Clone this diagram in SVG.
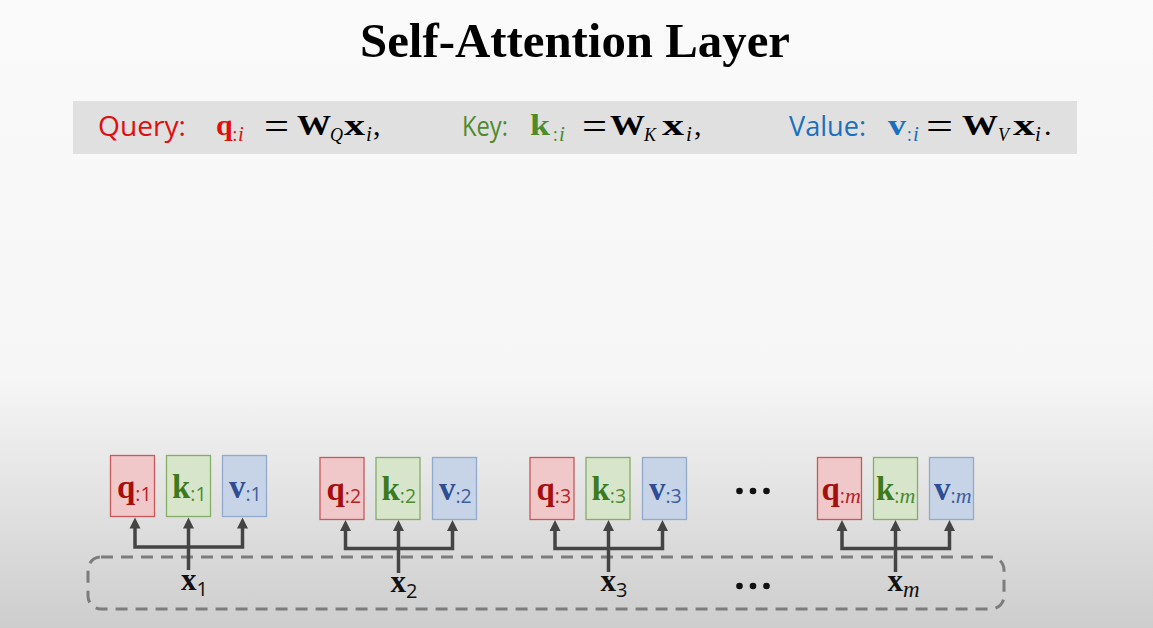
<svg xmlns="http://www.w3.org/2000/svg" width="1153" height="628" viewBox="0 0 1153 628">
<defs>
<linearGradient id="bg" x1="0" y1="0" x2="0" y2="1">
<stop offset="0" stop-color="#fafafa"/>
<stop offset="0.6" stop-color="#f6f6f6"/>
<stop offset="1" stop-color="#cdcdcd"/>
</linearGradient>
<style>
.title{font-family:"Liberation Serif",serif;font-weight:bold;font-size:48px;fill:#000}
.lab{font-family:"Open Sans","Liberation Sans",sans-serif;font-size:27px}
.mb{font-family:"Liberation Serif",serif;font-weight:bold;font-size:30px;fill:#000}
.mi{font-family:"Liberation Serif",serif;font-style:italic;font-size:21px}
.mc{font-family:"Liberation Serif",serif;font-style:italic;font-size:18px}
.ms{font-family:"Open Sans","Liberation Sans",sans-serif;font-size:18px}
.eq{font-family:"Liberation Serif",serif;font-size:38px;fill:#000}
.cm{font-family:"Liberation Serif",serif;font-size:30px;fill:#000}
.bq{fill:#f0c8c9;stroke:#c9585a;stroke-width:1.3}
.bk{fill:#d7e6cb;stroke:#86ad68;stroke-width:1.3}
.bv{fill:#c7d4e7;stroke:#91a9cc;stroke-width:1.3}
.tb{font-family:"Liberation Serif",serif;font-weight:bold;font-size:33px}
.ts{font-family:"Open Sans","Liberation Sans",sans-serif;font-size:19.5px}
.tm{font-family:"Liberation Serif",serif;font-style:italic;font-size:22px}
.cq{fill:#a50f0f}.ck{fill:#3c7a1f}.cv{fill:#2d4e93}
.sq{fill:#b52424}.sk{fill:#4d8a30}.sv{fill:#3d5ea0}
.xb{font-family:"Liberation Serif",serif;font-weight:bold;font-size:31px;fill:#111}
.xs{font-family:"Open Sans","Liberation Sans",sans-serif;font-size:20px;fill:#111}
.xm{font-family:"Liberation Serif",serif;font-style:italic;font-size:23px;fill:#111}
.ln{fill:none;stroke:#444;stroke-width:3.5}
.ah{fill:#444}
.dot{fill:#111}
</style>
</defs>
<rect width="1153" height="628" fill="url(#bg)"/>
<g id="title"><text class="title" x="575" y="57" text-anchor="middle" textLength="430" lengthAdjust="spacingAndGlyphs">Self-Attention Layer</text></g>
<g id="header">
<rect x="73" y="101" width="1004" height="53" fill="#e0e0e0"/>
<text class="lab" x="98" y="136" fill="#e00e0e" textLength="88" lengthAdjust="spacingAndGlyphs">Query:</text>
<text class="mb" x="216" y="135" style="fill:#e00e0e">q</text>
<text class="ms" x="232.5" y="141" fill="#e00e0e">:</text><text class="mi" x="238" y="141" fill="#e00e0e">i</text>
<text class="eq" x="264" y="139" textLength="25" lengthAdjust="spacingAndGlyphs">=</text>
<text class="mb" x="297" y="135" textLength="34" lengthAdjust="spacingAndGlyphs">W</text>
<text class="mc" x="330" y="141" fill="#000">Q</text>
<text class="mb" x="344" y="135" textLength="21" lengthAdjust="spacingAndGlyphs">x</text>
<text class="mi" x="366" y="141" fill="#000">i</text>
<text class="cm" x="373" y="135">,</text>

<text class="lab" x="462" y="136" fill="#4f8a2b" textLength="46" lengthAdjust="spacingAndGlyphs">Key:</text>
<text class="mb" x="530" y="135" style="fill:#4f8a2b" textLength="20" lengthAdjust="spacingAndGlyphs">k</text>
<text class="ms" x="553" y="141" fill="#4f8a2b">:</text><text class="mi" x="559" y="141" fill="#4f8a2b">i</text>
<text class="eq" x="582" y="139" textLength="25" lengthAdjust="spacingAndGlyphs">=</text>
<text class="mb" x="610" y="135" textLength="35" lengthAdjust="spacingAndGlyphs">W</text>
<text class="mc" x="644" y="141" fill="#000">K</text>
<text class="mb" x="662" y="135" textLength="22" lengthAdjust="spacingAndGlyphs">x</text>
<text class="mi" x="686" y="141" fill="#000">i</text>
<text class="cm" x="694" y="135">,</text>

<text class="lab" x="789" y="136" fill="#1a6fbf" textLength="77" lengthAdjust="spacingAndGlyphs">Value:</text>
<text class="mb" x="888" y="135" style="fill:#1a6fbf" textLength="18" lengthAdjust="spacingAndGlyphs">v</text>
<text class="ms" x="907" y="141" fill="#1a6fbf">:</text><text class="mi" x="913" y="141" fill="#1a6fbf">i</text>
<text class="eq" x="926" y="139" textLength="27" lengthAdjust="spacingAndGlyphs">=</text>
<text class="mb" x="962" y="135" textLength="36" lengthAdjust="spacingAndGlyphs">W</text>
<text class="mc" x="998" y="141" fill="#000">V</text>
<text class="mb" x="1013" y="135" textLength="22" lengthAdjust="spacingAndGlyphs">x</text>
<text class="mi" x="1035" y="141" fill="#000">i</text>
<text class="cm" x="1044" y="135">.</text>
</g>

<g id="input-box"><rect x="88" y="557" width="916" height="52" rx="13" fill="none" stroke="#7c7c7c" stroke-width="3" stroke-dasharray="12 8"/></g>

<g id="q1"><rect class="bq" x="110.5" y="455.5" width="44" height="61"/><text x="117" y="498"><tspan class="tb cq">q</tspan><tspan class="ts sq" dy="3">:1</tspan></text></g>
<g id="k1"><rect class="bk" x="166.5" y="455.5" width="44" height="61"/><text x="172" y="498"><tspan class="tb ck">k</tspan><tspan class="ts sk" dy="3">:1</tspan></text></g>
<g id="v1"><rect class="bv" x="222.5" y="455.5" width="44" height="61"/><text x="229" y="498"><tspan class="tb cv">v</tspan><tspan class="ts sv" dy="3">:1</tspan></text></g>

<g id="q2"><rect class="bq" x="320" y="457.5" width="44" height="62"/><text x="326.5" y="500"><tspan class="tb cq">q</tspan><tspan class="ts sq" dy="3">:2</tspan></text></g>
<g id="k2"><rect class="bk" x="376" y="457.5" width="44" height="62"/><text x="381.5" y="500"><tspan class="tb ck">k</tspan><tspan class="ts sk" dy="3">:2</tspan></text></g>
<g id="v2"><rect class="bv" x="432.5" y="457.5" width="44" height="62"/><text x="439" y="500"><tspan class="tb cv">v</tspan><tspan class="ts sv" dy="3">:2</tspan></text></g>

<g id="q3"><rect class="bq" x="530" y="457.5" width="44" height="62"/><text x="536.5" y="500"><tspan class="tb cq">q</tspan><tspan class="ts sq" dy="3">:3</tspan></text></g>
<g id="k3"><rect class="bk" x="586" y="457.5" width="44" height="62"/><text x="591.5" y="500"><tspan class="tb ck">k</tspan><tspan class="ts sk" dy="3">:3</tspan></text></g>
<g id="v3"><rect class="bv" x="642.5" y="457.5" width="44" height="62"/><text x="649" y="500"><tspan class="tb cv">v</tspan><tspan class="ts sv" dy="3">:3</tspan></text></g>

<g id="qm"><rect class="bq" x="817.5" y="457.5" width="44" height="62"/><text x="821.5" y="500"><tspan class="tb cq">q</tspan><tspan class="ts sq" dy="3">:</tspan><tspan class="tm sq">m</tspan></text></g>
<g id="km"><rect class="bk" x="873.5" y="457.5" width="44" height="62"/><text x="876" y="500"><tspan class="tb ck">k</tspan><tspan class="ts sk" dy="3">:</tspan><tspan class="tm sk">m</tspan></text></g>
<g id="vm"><rect class="bv" x="929.5" y="457.5" width="44" height="62"/><text x="934" y="500"><tspan class="tb cv">v</tspan><tspan class="ts sv" dy="3">:</tspan><tspan class="tm sv">m</tspan></text></g>

<g id="dots-top"><circle class="dot" cx="739.5" cy="491" r="3.3"/><circle class="dot" cx="753" cy="491" r="3.3"/><circle class="dot" cx="766.5" cy="491" r="3.3"/></g>
<g id="dots-bottom"><circle class="dot" cx="739.5" cy="586" r="3.3"/><circle class="dot" cx="753" cy="586" r="3.3"/><circle class="dot" cx="766.5" cy="586" r="3.3"/></g>

<g id="x1"><text x="181" y="590"><tspan class="xb">x</tspan><tspan class="xs" dy="6">1</tspan></text></g>
<g id="x2"><text x="390.5" y="592"><tspan class="xb">x</tspan><tspan class="xs" dy="6">2</tspan></text></g>
<g id="x3"><text x="600.5" y="591"><tspan class="xb">x</tspan><tspan class="xs" dy="6">3</tspan></text></g>
<g id="xm"><text x="887.5" y="591"><tspan class="xb">x</tspan><tspan class="xm" dy="6">m</tspan></text></g>

<g id="connectors">
<path class="ln" d="M135 528V547H242.5V528M188.5 570V526"/>
<path class="ah" d="M135 517.5l-5.5 11h11zM188.5 517.5l-5.5 11h11zM242.5 517.5l-5.5 11h11z"/>
<path class="ln" d="M345.5 530V548.5H452.5V530M398.5 573V528"/>
<path class="ah" d="M345.5 520l-5.5 11h11zM398.5 520l-5.5 11h11zM452.5 520l-5.5 11h11z"/>
<path class="ln" d="M555 530V548.5H662.5V530M608.5 572V528"/>
<path class="ah" d="M555 520l-5.5 11h11zM608.5 520l-5.5 11h11zM662.5 520l-5.5 11h11z"/>
<path class="ln" d="M842 530V548.5H949.5V530M895.5 572V528"/>
<path class="ah" d="M842 520l-5.5 11h11zM895.5 520l-5.5 11h11zM949.5 520l-5.5 11h11z"/>
</g>
</svg>
